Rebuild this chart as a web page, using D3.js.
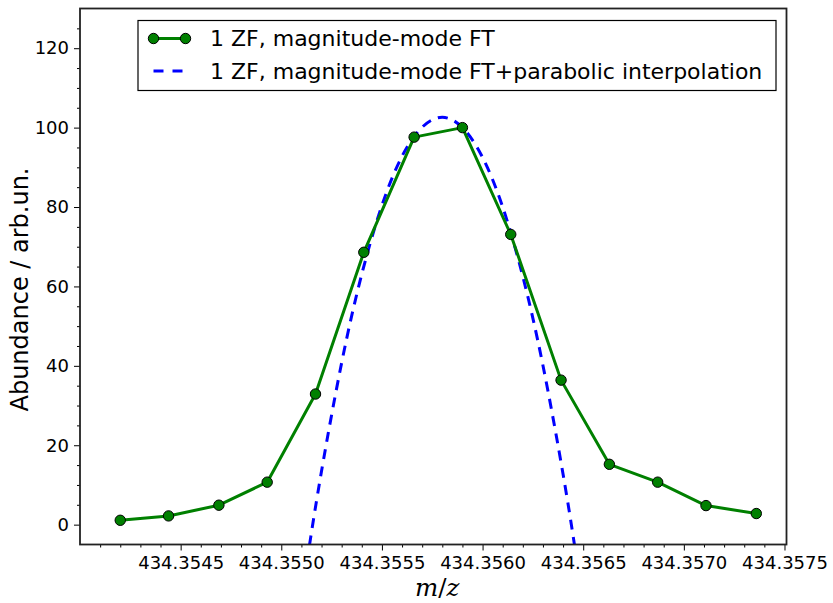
<!DOCTYPE html>
<html>
<head>
<meta charset="utf-8">
<script src="https://cdn.jsdelivr.net/npm/d3@7"></script>
<style>
  html, body { margin: 0; padding: 0; background: #fff; }
  svg { display: block; }
  text { font-family: "DejaVu Sans", sans-serif; fill: #000; }
</style>
</head>
<body>
<svg id="chart" width="833" height="603"></svg>
<script>
// Measured peak profile: m/z sample positions and abundance values
const mzSamples = [434.35420, 434.35444, 434.35469, 434.35493, 434.35517, 434.35541, 434.35566,
                   434.35590, 434.35614, 434.35639, 434.35663, 434.35687, 434.35711, 434.35736];
const abundance = [1.1, 2.2, 4.9, 10.7, 32.9, 68.6, 97.6, 100.0, 73.1, 36.4, 15.2, 10.7, 4.8, 2.8];

// Parabolic interpolation around the apex
const parabolaMz = [434.35514, 434.35520, 434.35530, 434.35540, 434.35550, 434.35560, 434.35570, 434.35580,
                    434.35590, 434.35600, 434.35610, 434.35620, 434.35630, 434.35640, 434.35646];
const parabolaAb = [-5.2, 13.5, 40.8, 63.1, 80.4, 92.8, 100.1, 102.6,
                    100.0, 92.5, 80.0, 62.5, 40.1, 12.7, -6.2];

// Axis ticks
const xMajorTicks = [434.3545, 434.3550, 434.3555, 434.3560, 434.3565, 434.3570, 434.3575];
const xMinorTicks = [434.3541, 434.3542, 434.3543, 434.3544, 434.3546, 434.3547, 434.3548, 434.3549,
                     434.3551, 434.3552, 434.3553, 434.3554, 434.3556, 434.3557, 434.3558, 434.3559,
                     434.3561, 434.3562, 434.3563, 434.3564, 434.3566, 434.3567, 434.3568, 434.3569,
                     434.3571, 434.3572, 434.3573, 434.3574];
const yMajorTicks = [0, 20, 40, 60, 80, 100, 120];
const yMinorTicks = [5, 10, 15, 25, 30, 35, 45, 50, 55, 65, 70, 75, 85, 90, 95, 105, 110, 115, 125];

const legendLabels = ["1 ZF, magnitude-mode FT", "1 ZF, magnitude-mode FT+parabolic interpolation"];

const svg = d3.select("#chart");
const plot = { left: 80, right: 786.5, top: 8.5, bottom: 544.5 };

const x = d3.scaleLinear().domain([434.3540, 434.35751]).range([plot.left, plot.right]);
const y = d3.scaleLinear().domain([-5, 130]).range([plot.bottom, plot.top]);

svg.append("defs").append("clipPath").attr("id", "plotClip")
  .append("rect")
  .attr("x", plot.left).attr("y", plot.top)
  .attr("width", plot.right - plot.left).attr("height", plot.bottom - plot.top);

// Axes
const xAxis = svg.append("g").attr("transform", `translate(0,${plot.bottom})`)
  .call(d3.axisBottom(x).tickValues(xMajorTicks).tickSize(6).tickPadding(5.5)
    .tickFormat(d3.format(".4f")));
svg.append("g").attr("transform", `translate(0,${plot.bottom})`)
  .call(d3.axisBottom(x).tickValues(xMinorTicks).tickSize(3).tickFormat(""));
const yAxis = svg.append("g").attr("transform", `translate(${plot.left},0)`)
  .call(d3.axisLeft(y).tickValues(yMajorTicks).tickSize(6).tickPadding(5));
svg.append("g").attr("transform", `translate(${plot.left},0)`)
  .call(d3.axisLeft(y).tickValues(yMinorTicks).tickSize(3).tickFormat(""));

svg.selectAll(".domain").remove();
svg.selectAll(".tick line").attr("stroke", "#000").attr("stroke-width", 1);
xAxis.selectAll("text").style("font-size", "18px").style("font-family", "DejaVu Sans");
yAxis.selectAll("text").style("font-size", "18px").style("font-family", "DejaVu Sans");

// Data lines
const g = svg.append("g").attr("clip-path", "url(#plotClip)");

const parabolaPts = parabolaMz.map((m, i) => [m, parabolaAb[i]]);
g.append("path")
  .datum(parabolaPts)
  .attr("fill", "none")
  .attr("stroke", "#0000ff")
  .attr("stroke-width", 3)
  .attr("stroke-dasharray", "10,7.5")
  .attr("d", d3.line().x(d => x(d[0])).y(d => y(d[1])).curve(d3.curveNatural));

const measuredPts = mzSamples.map((m, i) => [m, abundance[i]]);
g.append("path")
  .datum(measuredPts)
  .attr("fill", "none")
  .attr("stroke", "#008000")
  .attr("stroke-width", 3)
  .attr("stroke-linejoin", "round")
  .attr("d", d3.line().x(d => x(d[0])).y(d => y(d[1])));

g.selectAll("circle.pt")
  .data(measuredPts)
  .join("circle")
  .attr("class", "pt")
  .attr("cx", d => x(d[0])).attr("cy", d => y(d[1]))
  .attr("r", 5.2)
  .attr("fill", "#008000")
  .attr("stroke", "#000").attr("stroke-width", 1);

// Frame
svg.append("rect")
  .attr("x", plot.left).attr("y", plot.top)
  .attr("width", plot.right - plot.left).attr("height", plot.bottom - plot.top)
  .attr("fill", "none").attr("stroke", "#222").attr("stroke-width", 1.8);

// Axis titles
const xl = svg.append("text")
  .attr("x", (plot.left + plot.right) / 2 + 4).attr("y", 596)
  .attr("text-anchor", "middle")
  .style("font-family", "'DejaVu Serif', serif")
  .style("font-size", "24.5px");
xl.append("tspan").style("font-style", "italic").text("m");
xl.append("tspan").text("/");
xl.append("tspan").style("font-style", "italic").text("z");

svg.append("text")
  .attr("transform", `translate(28,${(plot.top + plot.bottom) / 2 + 13}) rotate(-90)`)
  .attr("text-anchor", "middle")
  .style("font-size", "24px")
  .text("Abundance / arb.un.");

// Legend
const lg = svg.append("g");
lg.append("rect")
  .attr("x", 138).attr("y", 20.5).attr("width", 638).attr("height", 70)
  .attr("fill", "#fff").attr("stroke", "#000").attr("stroke-width", 1.2);

const row1 = 38.5, row2 = 71;
lg.append("line").attr("x1", 153.5).attr("x2", 185.5).attr("y1", row1).attr("y2", row1)
  .attr("stroke", "#008000").attr("stroke-width", 3);
[153.5, 185.5].forEach(cx => lg.append("circle").attr("cx", cx).attr("cy", row1).attr("r", 5.2)
  .attr("fill", "#008000").attr("stroke", "#000").attr("stroke-width", 1));
lg.append("line").attr("x1", 153.5).attr("x2", 185.5).attr("y1", row2).attr("y2", row2)
  .attr("stroke", "#0000ff").attr("stroke-width", 3).attr("stroke-dasharray", "10,9");

lg.selectAll("text.leg")
  .data(legendLabels)
  .join("text")
  .attr("class", "leg")
  .attr("x", 210)
  .attr("y", (d, i) => (i === 0 ? 46 : 78.5))
  .style("font-size", "22px")
  .text(d => d);
</script>
</body>
</html>
